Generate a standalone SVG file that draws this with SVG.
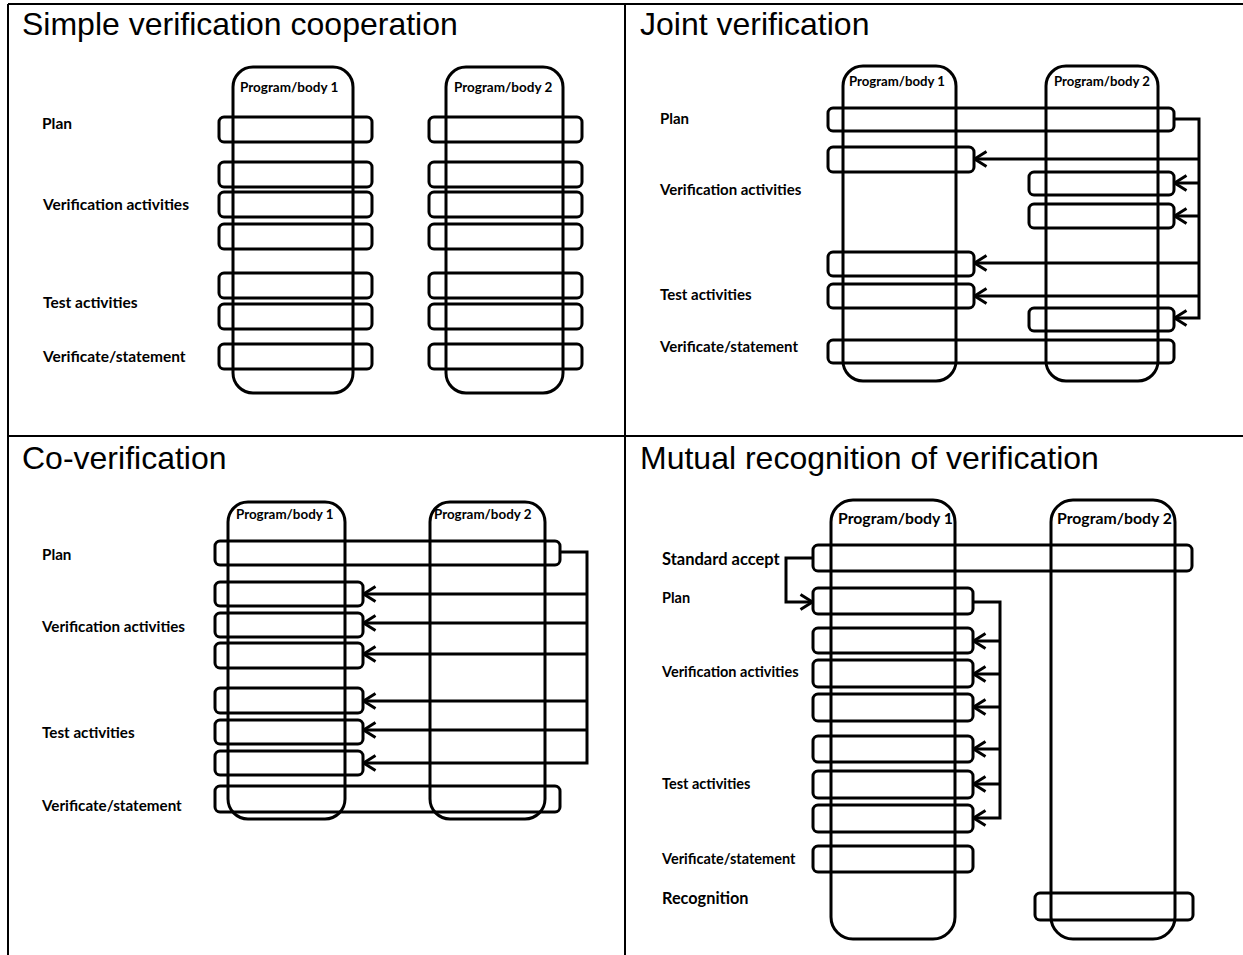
<svg xmlns="http://www.w3.org/2000/svg" width="1243" height="955" viewBox="0 0 1243 955">
<style>
.frame{stroke:#000;stroke-width:2;fill:none}
.cap{fill:none;stroke:#000;stroke-width:3}
.bar{fill:none;stroke:#000;stroke-width:3}
.con{fill:none;stroke:#000;stroke-width:3;marker-end:url(#arr)}
.title{font-family:"Liberation Sans",Arial,sans-serif;font-size:32px;fill:#000}
.lbl{font-family:Lato,"Liberation Sans",sans-serif;font-weight:bold;font-size:15.5px;fill:#000}
.body{font-family:Lato,"Liberation Sans",sans-serif;font-weight:bold;font-size:13.5px;fill:#000}
</style>
<defs>
<marker id="arr" viewBox="0 0 15 18" refX="14" refY="9" markerWidth="15" markerHeight="18" markerUnits="userSpaceOnUse" orient="auto">
<path d="M1.5,1.5 L13.5,9 L1.5,16.5" fill="none" stroke="#000" stroke-width="3"/>
</marker>
</defs>
<rect width="1243" height="955" fill="#fff"/>
<g id="frame">
<path class="frame" d="M8,4 H1243 M8,4 V955 M625,4 V955 M8,436 H1243"/>
</g>

<g id="q1">
<text class="title" x="22" y="35">Simple verification cooperation</text>
<g id="q1-labels">
<text class="lbl" x="42" y="129">Plan</text>
<text class="lbl" x="43" y="210">Verification activities</text>
<text class="lbl" x="43" y="308">Test activities</text>
<text class="lbl" x="43" y="362">Verificate/statement</text>
</g>
<g id="q1-body1">
<rect class="cap" x="233" y="67" width="120" height="326" rx="20"/>
<text class="body" x="240" y="92">Program/body 1</text>
<rect class="bar" x="219" y="117" width="153" height="25" rx="5"/>
<rect class="bar" x="219" y="162" width="153" height="25" rx="5"/>
<rect class="bar" x="219" y="192" width="153" height="25" rx="5"/>
<rect class="bar" x="219" y="224" width="153" height="25" rx="5"/>
<rect class="bar" x="219" y="273" width="153" height="25" rx="5"/>
<rect class="bar" x="219" y="304" width="153" height="25" rx="5"/>
<rect class="bar" x="219" y="344" width="153" height="25" rx="5"/>
</g>
<g id="q1-body2">
<rect class="cap" x="446" y="67" width="117" height="326" rx="20"/>
<text class="body" x="454" y="92">Program/body 2</text>
<rect class="bar" x="429" y="117" width="153" height="25" rx="5"/>
<rect class="bar" x="429" y="162" width="153" height="25" rx="5"/>
<rect class="bar" x="429" y="192" width="153" height="25" rx="5"/>
<rect class="bar" x="429" y="224" width="153" height="25" rx="5"/>
<rect class="bar" x="429" y="273" width="153" height="25" rx="5"/>
<rect class="bar" x="429" y="304" width="153" height="25" rx="5"/>
<rect class="bar" x="429" y="344" width="153" height="25" rx="5"/>
</g>
</g>

<g id="q2">
<text class="title" x="640" y="35">Joint verification</text>
<g id="q2-labels">
<text class="lbl" x="660" y="124" style="font-size:15px">Plan</text>
<text class="lbl" x="660" y="195" style="font-size:15px">Verification activities</text>
<text class="lbl" x="660" y="300" style="font-size:15px">Test activities</text>
<text class="lbl" x="660" y="352" style="font-size:15px">Verificate/statement</text>
</g>
<g id="q2-body1">
<rect class="cap" x="843" y="66" width="113" height="315" rx="20"/>
<text class="body" x="849" y="86" style="font-size:13.2px">Program/body 1</text>
</g>
<g id="q2-body2">
<rect class="cap" x="1046" y="66" width="112" height="315" rx="20"/>
<text class="body" x="1054" y="86" style="font-size:13.2px">Program/body 2</text>
</g>
<g id="q2-bars">
<rect class="bar" x="828" y="108" width="346" height="23" rx="5"/>
<rect class="bar" x="828" y="147" width="146" height="25" rx="5"/>
<rect class="bar" x="1029" y="172" width="145" height="23" rx="5"/>
<rect class="bar" x="1029" y="204" width="145" height="24" rx="5"/>
<rect class="bar" x="828" y="252" width="146" height="24" rx="5"/>
<rect class="bar" x="828" y="284" width="146" height="24" rx="5"/>
<rect class="bar" x="1029" y="308" width="145" height="23" rx="5"/>
<rect class="bar" x="828" y="340" width="346" height="23" rx="5"/>
</g>
</g>

<g id="q3">
<text class="title" x="22" y="469">Co-verification</text>
<g id="q3-labels">
<text class="lbl" x="42" y="560" style="font-size:15.2px">Plan</text>
<text class="lbl" x="42" y="632" style="font-size:15.2px">Verification activities</text>
<text class="lbl" x="42" y="738" style="font-size:15.2px">Test activities</text>
<text class="lbl" x="42" y="811" style="font-size:15.2px">Verificate/statement</text>
</g>
<g id="q3-body1">
<rect class="cap" x="228" y="502" width="117" height="317" rx="20"/>
<text class="body" x="236" y="519" style="font-size:13.4px">Program/body 1</text>
</g>
<g id="q3-body2">
<rect class="cap" x="430" y="502" width="115" height="317" rx="20"/>
<text class="body" x="434" y="519" style="font-size:13.4px">Program/body 2</text>
</g>
<g id="q3-bars">
<rect class="bar" x="215" y="541" width="345" height="24" rx="5"/>
<rect class="bar" x="215" y="582" width="148" height="24" rx="5"/>
<rect class="bar" x="215" y="613" width="148" height="24" rx="5"/>
<rect class="bar" x="215" y="643" width="148" height="25" rx="5"/>
<rect class="bar" x="215" y="688" width="148" height="25" rx="5"/>
<rect class="bar" x="215" y="720" width="148" height="24" rx="5"/>
<rect class="bar" x="215" y="751" width="148" height="24" rx="5"/>
<rect class="bar" x="215" y="786" width="345" height="26" rx="5"/>
</g>
</g>

<g id="q4">
<text class="title" x="640" y="469">Mutual recognition of verification</text>
<g id="q4-labels">
<text class="lbl" x="662" y="565" style="font-size:16.5px">Standard  accept</text>
<text class="lbl" x="662" y="603" style="font-size:14.5px">Plan</text>
<text class="lbl" x="662" y="677" style="font-size:14.5px">Verification activities</text>
<text class="lbl" x="662" y="789" style="font-size:14.5px">Test activities</text>
<text class="lbl" x="662" y="864" style="font-size:14.5px">Verificate/statement</text>
<text class="lbl" x="662" y="904" style="font-size:16.3px">Recognition</text>
</g>
<g id="q4-body1">
<rect class="cap" x="831" y="500" width="124" height="439" rx="22"/>
<text class="body" x="838" y="524" style="font-size:15.8px">Program/body 1</text>
</g>
<g id="q4-body2">
<rect class="cap" x="1051" y="500" width="124" height="439" rx="22"/>
<text class="body" x="1057" y="524" style="font-size:15.8px">Program/body 2</text>
</g>
<g id="q4-bars">
<rect class="bar" x="813" y="545" width="379" height="26" rx="5"/>
<rect class="bar" x="813" y="588" width="160" height="26" rx="5"/>
<rect class="bar" x="813" y="628" width="160" height="25" rx="5"/>
<rect class="bar" x="813" y="660" width="160" height="27" rx="5"/>
<rect class="bar" x="813" y="694" width="160" height="27" rx="5"/>
<rect class="bar" x="813" y="736" width="160" height="26" rx="5"/>
<rect class="bar" x="813" y="771" width="160" height="27" rx="5"/>
<rect class="bar" x="813" y="805" width="160" height="27" rx="5"/>
<rect class="bar" x="813" y="846" width="160" height="26" rx="5"/>
<rect class="bar" x="1035" y="893" width="158" height="27" rx="5"/>
</g>
</g>

<g id="connectors">
<path class="con" d="M1174,119 H1199 V318 H1174"/>
<path class="con" d="M1199,159 H974"/>
<path class="con" d="M1199,183 H1174"/>
<path class="con" d="M1199,216 H1174"/>
<path class="con" d="M1199,263 H974"/>
<path class="con" d="M1199,296 H974"/>
<path class="con" d="M560,552 H587 V763 H363"/>
<path class="con" d="M587,594 H363"/>
<path class="con" d="M587,623 H363"/>
<path class="con" d="M587,654 H363"/>
<path class="con" d="M587,701 H363"/>
<path class="con" d="M587,730 H363"/>
<path class="con" d="M813,558 H786 V602 H813"/>
<path class="con" d="M973,602 H1000 V818 H973"/>
<path class="con" d="M1000,641 H973"/>
<path class="con" d="M1000,674 H973"/>
<path class="con" d="M1000,707 H973"/>
<path class="con" d="M1000,749 H973"/>
<path class="con" d="M1000,784 H973"/>
</g>
</svg>
